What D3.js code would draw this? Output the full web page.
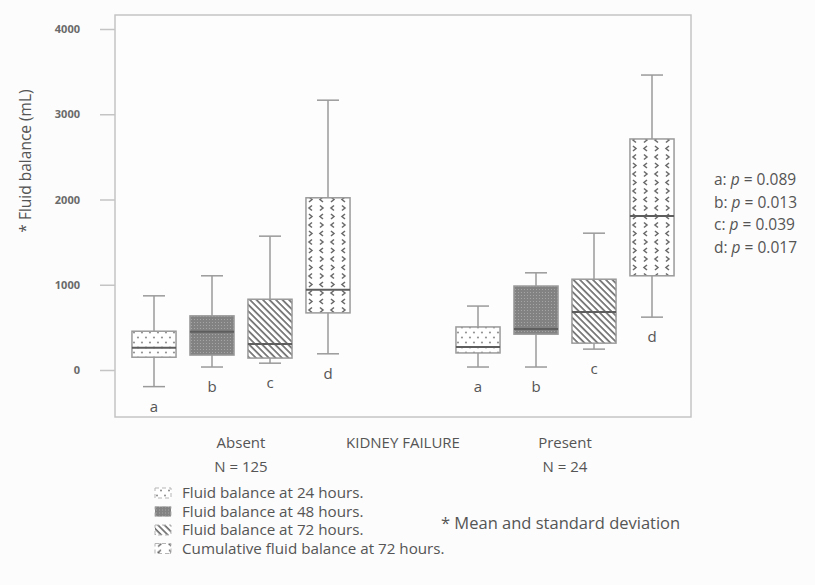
<!DOCTYPE html>
<html>
<head>
<meta charset="utf-8">
<script src="https://cdn.jsdelivr.net/npm/d3@7"></script>
<style>
  body { margin: 0; background: #fcfcfc; }
  text { font-family: "Open Sans", Lato, sans-serif; fill: #555; }
</style>
</head>
<body>
<div id="chart"></div>
<script>
"use strict";

// data
var groups = ["Absent", "Present"];
var groupN = ["N = 125", "N = 24"];
var series = ["a", "b", "c", "d"];
var seriesNames = ["Fluid balance at 24 hours.", "Fluid balance at 48 hours.",
  "Fluid balance at 72 hours.", "Cumulative fluid balance at 72 hours."];
var pValues = ["0.089", "0.013", "0.039", "0.017"];
var yTicks = [0, 1000, 2000, 3000, 4000];

// box stats per series (a,b,c,d)
var absentLow = [-195, 35, 80, 190];
var absentQ1 = [150, 175, 140, 670];
var absentMed = [260, 450, 305, 940];
var absentQ3 = [455, 635, 830, 2020];
var absentHigh = [870, 1105, 1570, 3165];

var presentLow = [35, 35, 245, 620];
var presentQ1 = [200, 420, 315, 1105];
var presentMed = [270, 480, 680, 1805];
var presentQ3 = [505, 985, 1065, 2710];
var presentHigh = [750, 1140, 1605, 3460];

var rows = [];
groups.forEach(function(g, gi) {
  var src = gi === 0
    ? [absentLow, absentQ1, absentMed, absentQ3, absentHigh]
    : [presentLow, presentQ1, presentMed, presentQ3, presentHigh];
  series.forEach(function(s, si) {
    rows.push({ group: g, key: s, idx: si, low: src[0][si], q1: src[1][si],
      med: src[2][si], q3: src[3][si], high: src[4][si] });
  });
});

var W = 815, H = 585;
var frame = { left: 115, top: 15, right: 691, bottom: 417 };

var svg = d3.select("#chart").append("svg")
  .attr("width", W).attr("height", H);

// patterns
var defs = svg.append("defs");
var pa = defs.append("pattern").attr("id", "pat-a").attr("patternUnits", "userSpaceOnUse")
  .attr("width", 8).attr("height", 10);
pa.append("rect").attr("width", 8).attr("height", 10).attr("fill", "#fff");
pa.append("circle").attr("cx", 2).attr("cy", 2.5).attr("r", 1).attr("fill", "#8a8a8a");
pa.append("circle").attr("cx", 6).attr("cy", 7.5).attr("r", 1).attr("fill", "#8a8a8a");

var pb = defs.append("pattern").attr("id", "pat-b").attr("patternUnits", "userSpaceOnUse")
  .attr("width", 3).attr("height", 3);
pb.append("rect").attr("width", 3).attr("height", 3).attr("fill", "#828282");
pb.append("rect").attr("x", 1).attr("y", 1).attr("width", 1).attr("height", 1).attr("fill", "#a6a6a6");

var pc = defs.append("pattern").attr("id", "pat-c").attr("patternUnits", "userSpaceOnUse")
  .attr("width", 4.6).attr("height", 10).attr("patternTransform", "rotate(-45)");
pc.append("rect").attr("width", 4.6).attr("height", 10).attr("fill", "#fff");
pc.append("line").attr("x1", 1).attr("x2", 1).attr("y1", 0).attr("y2", 10)
  .attr("stroke", "#6e6e6e").attr("stroke-width", 1.7);

var pd = defs.append("pattern").attr("id", "pat-d").attr("patternUnits", "userSpaceOnUse")
  .attr("width", 22).attr("height", 17);
pd.append("rect").attr("width", 22).attr("height", 17).attr("fill", "#fff");
[[3, 4, -1], [14, 4, 1], [3, 12.5, 1], [14, 12.5, -1]].forEach(function(c) {
  var x = c[0], y = c[1], dir = c[2];
  pd.append("path")
    .attr("d", dir > 0
      ? "M" + x + "," + (y - 2.5) + "L" + (x + 3) + "," + y + "L" + x + "," + (y + 2.5)
      : "M" + (x + 3) + "," + (y - 2.5) + "L" + x + "," + y + "L" + (x + 3) + "," + (y + 2.5))
    .attr("fill", "none").attr("stroke", "#666").attr("stroke-width", 1.5);
});
var fills = ["url(#pat-a)", "url(#pat-b)", "url(#pat-c)", "url(#pat-d)"];

// scales
var y = d3.scaleLinear().domain([0, 4000]).range([370, 29]);
var x0 = d3.scalePoint().domain(groups).range([frame.left + 126, frame.left + 450]);
var x1 = d3.scaleBand().domain(series).range([-116, 116])
  .paddingInner(0.24).paddingOuter(0.12);

// frame
svg.append("rect")
  .attr("x", frame.left).attr("y", frame.top)
  .attr("width", frame.right - frame.left).attr("height", frame.bottom - frame.top)
  .attr("fill", "#fdfdfd").attr("stroke", "#c4c4c4").attr("stroke-width", 1.5);

// y axis
var yAxis = svg.append("g")
  .attr("transform", "translate(" + frame.left + ",0)")
  .call(d3.axisLeft(y).tickValues(yTicks).tickSize(15).tickPadding(20).tickFormat(d3.format("d")));
yAxis.select(".domain").remove();
yAxis.selectAll("line").attr("stroke", "#c4c4c4").attr("stroke-width", 1.5);
yAxis.selectAll("text").attr("font-size", 11).attr("font-weight", "bold")
  .style("fill", "#6a6a6a").attr("font-family", "'Open Sans', sans-serif");

svg.append("text")
  .attr("transform", "translate(31,161) rotate(-90)")
  .attr("text-anchor", "middle").attr("font-size", 15.5)
  .text("* Fluid balance (mL)");

// boxes
var boxes = svg.selectAll(".box").data(rows).enter().append("g")
  .attr("class", "box")
  .attr("transform", function(d) { return "translate(" + (x0(d.group) + x1(d.key)) + ",0)"; });

var bw = x1.bandwidth();
boxes.append("line")
  .attr("x1", bw / 2).attr("x2", bw / 2)
  .attr("y1", function(d) { return y(d.high); })
  .attr("y2", function(d) { return y(d.low); })
  .attr("stroke", "#9a9a9a").attr("stroke-width", 1.5);
boxes.selectAll(".cap").data(function(d) { return [d.low, d.high]; }).enter().append("line")
  .attr("x1", bw / 4).attr("x2", bw * 3 / 4)
  .attr("y1", function(v) { return y(v); }).attr("y2", function(v) { return y(v); })
  .attr("stroke", "#9a9a9a").attr("stroke-width", 1.5);
boxes.append("rect")
  .attr("width", bw)
  .attr("y", function(d) { return y(d.q3); })
  .attr("height", function(d) { return y(d.q1) - y(d.q3); })
  .attr("fill", function(d) { return fills[d.idx]; })
  .attr("stroke", "#9a9a9a").attr("stroke-width", 1.5);
boxes.append("line")
  .attr("x1", 0).attr("x2", bw)
  .attr("y1", function(d) { return y(d.med); })
  .attr("y2", function(d) { return y(d.med); })
  .attr("stroke", "#5e5e5e").attr("stroke-width", 2);
boxes.append("text")
  .attr("x", bw / 2)
  .attr("y", function(d) { return y(d.low) + 25; })
  .attr("text-anchor", "middle").attr("font-size", 15)
  .text(function(d) { return d.key; });

// category labels
groups.forEach(function(g, i) {
  svg.append("text").attr("x", x0(g)).attr("y", 448)
    .attr("text-anchor", "middle").attr("font-size", 15).text(g);
  svg.append("text").attr("x", x0(g)).attr("y", 472)
    .attr("text-anchor", "middle").attr("font-size", 15).text(groupN[i]);
});
svg.append("text").attr("x", (x0(groups[0]) + x0(groups[1])) / 2).attr("y", 448)
  .attr("text-anchor", "middle").attr("font-size", 15).text("KIDNEY FAILURE");

// p values
var pText = svg.selectAll(".pval").data(series).enter().append("text")
  .attr("class", "pval")
  .attr("x", 714)
  .attr("y", function(d, i) { return 185 + i * 22.5; })
  .attr("font-size", 15.5);
pText.append("tspan").text(function(d) { return d + ": "; });
pText.append("tspan").attr("font-style", "italic").text("p");
pText.append("tspan").text(function(d, i) { return " = " + pValues[i]; });

// legend
var leg = svg.selectAll(".leg").data(seriesNames).enter().append("g")
  .attr("class", "leg")
  .attr("transform", function(d, i) { return "translate(155," + (493 + i * 18.5) + ")"; });
leg.append("rect")
  .attr("x", 0).attr("y", -5).attr("width", 16).attr("height", 10)
  .attr("fill", function(d, i) { return fills[i]; })
  .attr("stroke", "#b5b5b5").attr("stroke-width", 1).attr("stroke-dasharray", "4,3");
leg.append("text")
  .attr("x", 27).attr("y", 5).attr("font-size", 15.2)
  .text(function(d) { return d; });

svg.append("text").attr("x", 441).attr("y", 529).attr("font-size", 16.5)
  .text("* Mean and standard deviation");
</script>
</body>
</html>
